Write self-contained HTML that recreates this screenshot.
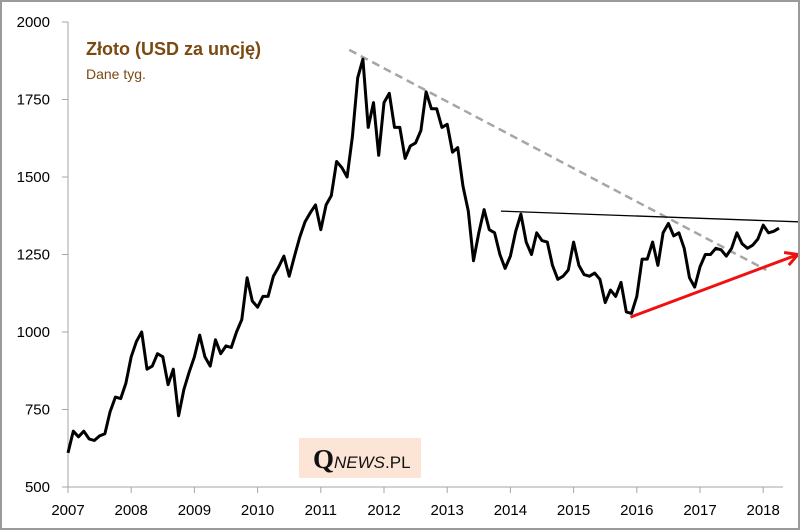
<!DOCTYPE html>
<html><head><meta charset="utf-8"><style>
body{margin:0;background:#fff}
#wrap{position:relative;width:800px;height:530px;box-sizing:border-box;border:2px solid #9a9a9a;background:#fff;overflow:hidden}
svg{position:absolute;left:0;top:0}
text{font-family:"Liberation Sans",sans-serif}
</style></head><body>
<div id="wrap">
<svg id="chart" width="800" height="530"></svg>
</div>
<script>
const yTicks=[500,750,1000,1250,1500,1750,2000];
const xYears=[2007,2008,2009,2010,2011,2012,2013,2014,2015,2016,2017,2018];
const months=[];
const prices=[
610,680,662,680,655,650,665,672,743,790,785,835,
920,970,1000,880,890,930,920,830,880,730,815,870,
920,990,920,890,975,930,955,950,1000,1040,1175,1100,
1080,1115,1115,1180,1210,1245,1180,1245,1305,1355,1385,1410,
1330,1410,1440,1550,1530,1500,1630,1820,1880,1660,1740,1570,
1740,1770,1660,1660,1560,1600,1610,1650,1775,1720,1720,1660,
1670,1580,1595,1470,1390,1230,1320,1395,1330,1320,1250,1205,
1245,1325,1380,1290,1250,1320,1295,1290,1215,1170,1180,1200,
1290,1215,1185,1180,1190,1170,1095,1135,1115,1160,1065,1060,
1115,1235,1235,1290,1215,1320,1350,1310,1320,1270,1175,1145,
1210,1250,1250,1270,1265,1245,1270,1320,1285,1270,1280,1300,
1345,1320,1325,1335];
for(let i=0;i<prices.length;i++)months.push(2007+i/12);
const resistance=[[2013.85,1390],[2018.6,1355]];
const downtrend=[[2011.45,1910],[2018.05,1200]];
const support=[[2015.9,1048],[2018.55,1250]];

const NS="http://www.w3.org/2000/svg";
const svg=document.getElementById('chart');
const X=t=>66+(t-2007)*63.2;
const Y=v=>20+(2000-v)*0.31;
function el(tag,attrs){const e=document.createElementNS(NS,tag);for(const k in attrs)e.setAttribute(k,attrs[k]);svg.appendChild(e);return e;}

let a=el('line',{x1:66,y1:20,x2:66,y2:485,stroke:'#a6a6a6','stroke-width':1});


a=el('line',{x1:66,y1:485,x2:781,y2:485,stroke:'#a6a6a6','stroke-width':1});


yTicks.forEach(v=>{
  const t=el('line',{x1:60,y1:Y(v),x2:66,y2:Y(v),stroke:'#a6a6a6'});
  
  
  const l=el('text',{x:48,y:Y(v)+5,'text-anchor':'end','font-size':15,fill:'#000'});
  l.textContent=v;
  
  
});
xYears.forEach(yr=>{
  const t=el('line',{x1:X(yr),y1:485,x2:X(yr),y2:491,stroke:'#a6a6a6'});
  
  
  const l=el('text',{x:X(yr),y:513,'text-anchor':'middle','font-size':15,fill:'#000'});
  l.textContent=yr;
  
  
});
let d=el('line',{x1:X(downtrend[0][0]),y1:Y(downtrend[0][1]),x2:X(downtrend[1][0]),y2:Y(downtrend[1][1]),stroke:'#a6a6a6','stroke-width':2.5,'stroke-dasharray':'8,5'});


const p=el('path',{d:months.map((t,i)=>(i?'L':'M')+X(t).toFixed(1)+','+Y(prices[i]).toFixed(1)).join(''),fill:'none',stroke:'#000','stroke-width':3,'stroke-linejoin':'round'});


let r=el('line',{x1:X(resistance[0][0]),y1:Y(resistance[0][1]),x2:X(resistance[1][0]),y2:Y(resistance[1][1]),stroke:'#000','stroke-width':1.3});


const sx1=X(support[0][0]),sy1=Y(support[0][1]),sx2=X(support[1][0]),sy2=Y(support[1][1]);
let s=el('line',{x1:sx1,y1:sy1,x2:sx2,y2:sy2,stroke:'#f01010','stroke-width':3});


const ang=Math.atan2(sy2-sy1,sx2-sx1),L=14;
let h=el('path',{d:`M${sx2-L*Math.cos(ang-0.5)},${sy2-L*Math.sin(ang-0.5)}L${sx2},${sy2}L${sx2-L*Math.cos(ang+0.5)},${sy2-L*Math.sin(ang+0.5)}`,fill:'none',stroke:'#f01010','stroke-width':3});



let t1=el('text',{x:84,y:53,'font-size':18,'font-weight':'bold',fill:'#7b4a12'});
t1.textContent='Złoto (USD za uncję)';


let t2=el('text',{x:84,y:77,'font-size':14,fill:'#7b4a12'});
t2.textContent='Dane tyg.';


let bx=el('rect',{x:297,y:436,width:122,height:40,fill:'#fce5d6'});


let lg=el('text',{x:311,y:466,fill:'#111'});


lg.innerHTML='<tspan style="font-family:\'Liberation Serif\',serif" font-size="27" font-weight="bold">Q</tspan><tspan font-size="17" font-style="italic">NEWS</tspan><tspan font-size="17">.PL</tspan>';
</script>
</body></html>
